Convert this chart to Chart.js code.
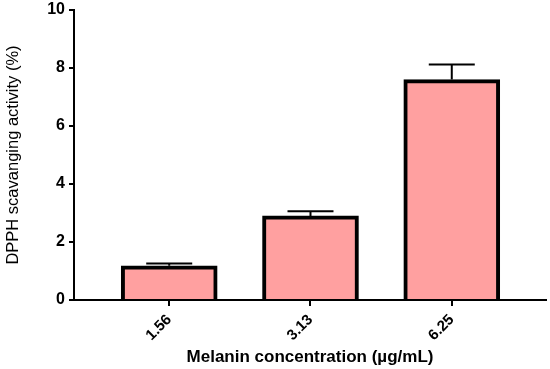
<!DOCTYPE html>
<html>
<head>
<meta charset="utf-8">
<style>
  html, body { margin: 0; padding: 0; background: #fff; }
  #wrap { width: 550px; height: 369px; position: relative; }
</style>
<script src="https://cdn.jsdelivr.net/npm/chart.js@4/dist/chart.umd.min.js"></script>
</head>
<body>
<div id="wrap"><canvas id="c" width="550" height="369"></canvas></div>
<script>
const categories = ["1.56", "3.13", "6.25"];
const values = [1.18, 2.9, 7.6];
const errors = [0.08, 0.16, 0.52];
const yTicks = [0, 2, 4, 6, 8, 10];

const FONT = "'Liberation Sans', Arial, Helvetica, sans-serif";

const errorBarPlugin = {
  id: 'errorBars',
  afterDatasetsDraw(chart) {
    const ctx = chart.ctx;
    const xs = chart.scales.x, ys = chart.scales.y;
    ctx.save();
    ctx.strokeStyle = '#000';
    ctx.lineWidth = 2;
    values.forEach((v, i) => {
      const x = xs.getPixelForValue(i);
      const yTop = ys.getPixelForValue(v + errors[i]);
      const yBar = ys.getPixelForValue(v);
      ctx.beginPath();
      ctx.moveTo(x, yBar);
      ctx.lineTo(x, yTop);
      ctx.moveTo(x - 23, yTop);
      ctx.lineTo(x + 23, yTop);
      ctx.stroke();
    });
    ctx.restore();
  }
};

new Chart(document.getElementById('c'), {
  type: 'bar',
  data: {
    datasets: [{
      data: values.map((v, i) => ({ x: i, y: v })),
      backgroundColor: '#FFA0A0',
      borderColor: '#000',
      borderWidth: 4,
      borderSkipped: 'start',
      barThickness: 96
    }]
  },
  options: {
    responsive: false,
    animation: false,
    devicePixelRatio: 1,
    layout: { padding: { top: 10, right: 4, left: 0, bottom: 0 } },
    plugins: { legend: { display: false }, tooltip: { enabled: false } },
    scales: {
      x: {
        type: 'linear',
        offset: false,
        min: -0.674,
        max: 2.667,
        afterBuildTicks(scale) { scale.ticks = categories.map((c, i) => ({ value: i })); },
        afterFit(scale) { scale.height = 69; scale.paddingLeft = 0; scale.paddingRight = 0; },
        grid: { display: true, offset: false, drawOnChartArea: false, drawTicks: true, tickLength: 6, color: '#000', lineWidth: 2 },
        border: { display: true, color: '#000', width: 2 },
        ticks: {
          autoSkip: false,
          minRotation: 45,
          maxRotation: 45,
          padding: 5,
          color: '#000',
          font: { family: FONT, size: 15, weight: 'bold' },
          callback: (v) => categories[v]
        },
        title: {
          display: true,
          text: 'Melanin concentration (µg/mL)',
          color: '#000',
          font: { family: FONT, size: 17, weight: 'bold' },
          padding: { top: 0, bottom: 1 }
        }
      },
      y: {
        min: 0,
        max: 10,
        afterBuildTicks(scale) { scale.ticks = yTicks.map(v => ({ value: v })); },
        afterFit(scale) { scale.width = 74; scale.paddingTop = 0; scale.paddingBottom = 0; },
        grid: { display: true, drawOnChartArea: false, drawTicks: true, tickLength: 5, color: '#000', lineWidth: 2 },
        border: { display: true, color: '#000', width: 2 },
        ticks: {
          padding: 4,
          color: '#000',
          font: { family: FONT, size: 16, weight: 'bold' }
        },
        title: {
          display: true,
          text: 'DPPH scavanging activity (%)',
          color: '#000',
          font: { family: FONT, size: 16.5, weight: 'normal' },
          padding: { top: 4, bottom: 0 }
        }
      }
    }
  },
  plugins: [errorBarPlugin]
});
</script>
</body>
</html>
